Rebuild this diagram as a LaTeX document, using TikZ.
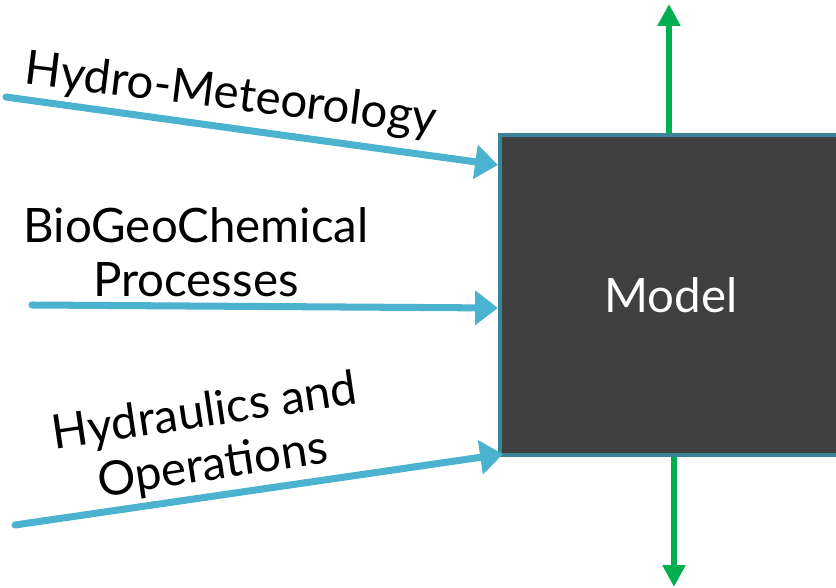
\documentclass[tikz,border=0pt]{standalone}
\usepackage{fontspec}
\setmainfont{Lato}
\usepackage{xcolor}
\usetikzlibrary{arrows.meta, positioning}

\definecolor{boxgray}{HTML}{404040}
\definecolor{boxedge}{HTML}{3A8498}
\definecolor{inblue}{HTML}{4BB3CF}
\definecolor{outgreen}{HTML}{00B050}

\begin{document}
\begin{tikzpicture}[x=0.02cm, y=-0.02cm, thick,
    label text/.style={font=\fontsize{27}{30.7}\selectfont, align=center, inner sep=0pt},
    inflow/.style={draw=inblue, line width=4pt, line cap=round, -{Triangle[length=13pt,width=19pt]}},
    outflow/.style={draw=outgreen, line width=3.4pt, -{Triangle[length=12.5pt,width=12.5pt]}}]
    \useasboundingbox (0,0) rectangle (836,588);

    \node[rectangle, draw=boxedge, line width=2.3pt, fill=boxgray, minimum width=342*0.02cm, minimum height=320*0.02cm,
          text=white, font=\fontsize{27}{30.7}\selectfont] (model) at (671,295) {Model};

    % inputs
    \coordinate (hydromet start) at (6,97);
    \coordinate (biogeo start) at (32,305);
    \coordinate (hydraulic start) at (15,525);
    \node[label text, rotate=-7] (hydromet) at (231,96) {Hydro-Meteorology};
    \node[label text] (biogeo) at (196,252) {BioGeoChemical\\Processes};
    \node[label text, rotate=8.5] (hydraulic) at (209,440) {Hydraulics and\\Operations};

    \draw[inflow] (hydromet start) -- ([yshift=-0.64cm]model.north west);
    \draw[inflow] (biogeo start) -- ([yshift=-0.26cm]model.west);
    \draw[inflow] (hydraulic start) -- ([xshift=0.1cm, yshift=0.06cm]model.south west);

    % outputs
    \coordinate (result up) at (669,4);
    \coordinate (result down) at (674,587);
    \draw[outflow] (result up |- model.north) -- (result up);
    \draw[outflow] (result down |- model.south) -- (result down);
\end{tikzpicture}
\end{document}
